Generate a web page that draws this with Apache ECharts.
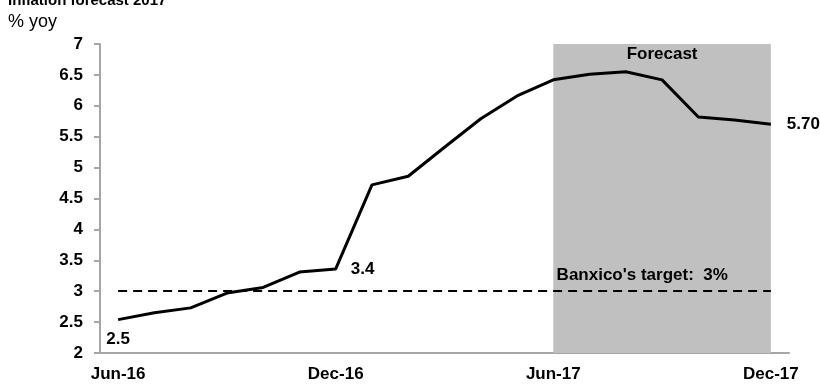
<!DOCTYPE html>
<html>
<head>
<meta charset="utf-8">
<script src="https://cdn.jsdelivr.net/npm/echarts@6/dist/echarts.min.js"></script>
<style>
  html, body { margin: 0; padding: 0; background: #fff; }
  #chart { width: 820px; height: 390px; }
</style>
</head>
<body>
<div id="chart"></div>
<script>
// monthly headline inflation, % yoy
const months = [
  "Jun-16", "Jul-16", "Aug-16", "Sep-16", "Oct-16", "Nov-16", "Dec-16",
  "Jan-17", "Feb-17", "Mar-17", "Apr-17", "May-17", "Jun-17",
  "Jul-17", "Aug-17", "Sep-17", "Oct-17", "Nov-17", "Dec-17"
];
const inflation = [
  2.54, 2.65, 2.73, 2.97, 3.06, 3.31, 3.36,
  4.72, 4.86, 5.33, 5.79, 6.16, 6.42,
  6.51, 6.55, 6.42, 5.82, 5.77, 5.70
];
const target = 3;
const forecastStart = "Jun-17";
const forecastEnd = "Dec-17";
// labelled points: index -> text
const pointLabels = { 0: "2.5", 6: "3.4", 18: "5.70" };

const font = "Arial, 'Liberation Sans', sans-serif";
const boldText = { color: "#000", fontFamily: font, fontSize: 17, fontWeight: "bold" };

const chart = echarts.init(document.getElementById("chart"));

const labelPoints = Object.keys(pointLabels).map(k => {
  const i = Number(k);
  let pos = "right", dist = 16;
  if (i === 0) { pos = "bottom"; dist = 11; }
  if (i === 6) { pos = "right"; dist = 15; }
  return {
    coord: [months[i], inflation[i]],
    label: { show: true, position: pos, distance: dist, formatter: pointLabels[k], ...boldText }
  };
});

chart.setOption({
  animation: false,
  title: [
    {
      text: "Inflation forecast 2017",
      left: 3,
      top: -12,
      textStyle: { fontFamily: font, fontSize: 15, fontWeight: "bold", color: "#000" }
    },
    {
      text: "% yoy",
      left: 3,
      top: 8,
      textStyle: { fontFamily: font, fontSize: 18, fontWeight: "normal", color: "#000" }
    }
  ],
  grid: { left: 100, right: 31, top: 44, bottom: 37 },
  xAxis: {
    type: "category",
    data: months,
    boundaryGap: true,
    axisLine: { lineStyle: { color: "#a6a6a6", width: 2 } },
    axisTick: { interval: 5, length: 6, lineStyle: { color: "#a6a6a6", width: 2 } },
    axisLabel: { interval: 5, margin: 13, ...boldText },
    splitLine: { show: false }
  },
  yAxis: {
    type: "value",
    min: 2,
    max: 7,
    interval: 0.5,
    axisLine: { show: true, lineStyle: { color: "#a6a6a6", width: 2 } },
    axisTick: { show: true, length: 6, lineStyle: { color: "#a6a6a6", width: 2 } },
    axisLabel: { margin: 17, ...boldText },
    splitLine: { show: false }
  },
  series: [
    {
      type: "line",
      data: inflation,
      symbol: "none",
      z: 5,
      lineStyle: { color: "#000", width: 3 },
      markPoint: {
        silent: true,
        symbol: "circle",
        symbolSize: 0,
        itemStyle: { color: "transparent" },
        data: labelPoints
      },
      markArea: {
        silent: true,
        itemStyle: { color: "#c0c0c0" },
        label: { show: true, position: "insideTop", distance: 2, ...boldText },
        data: [[{ xAxis: forecastStart, name: "Forecast" }, { xAxis: forecastEnd }]]
      },
      markLine: {
        silent: true,
        symbol: "none",
        lineStyle: { color: "#000", type: [9, 6], width: 2 },
        label: {
          show: true,
          position: "insideEndTop",
          formatter: "Banxico's target:  3%",
          padding: [0, 38, 2, 0],
          ...boldText
        },
        data: [[{ coord: [months[0], target] }, { coord: [months[months.length - 1], target] }]]
      }
    }
  ]
});
</script>
</body>
</html>
